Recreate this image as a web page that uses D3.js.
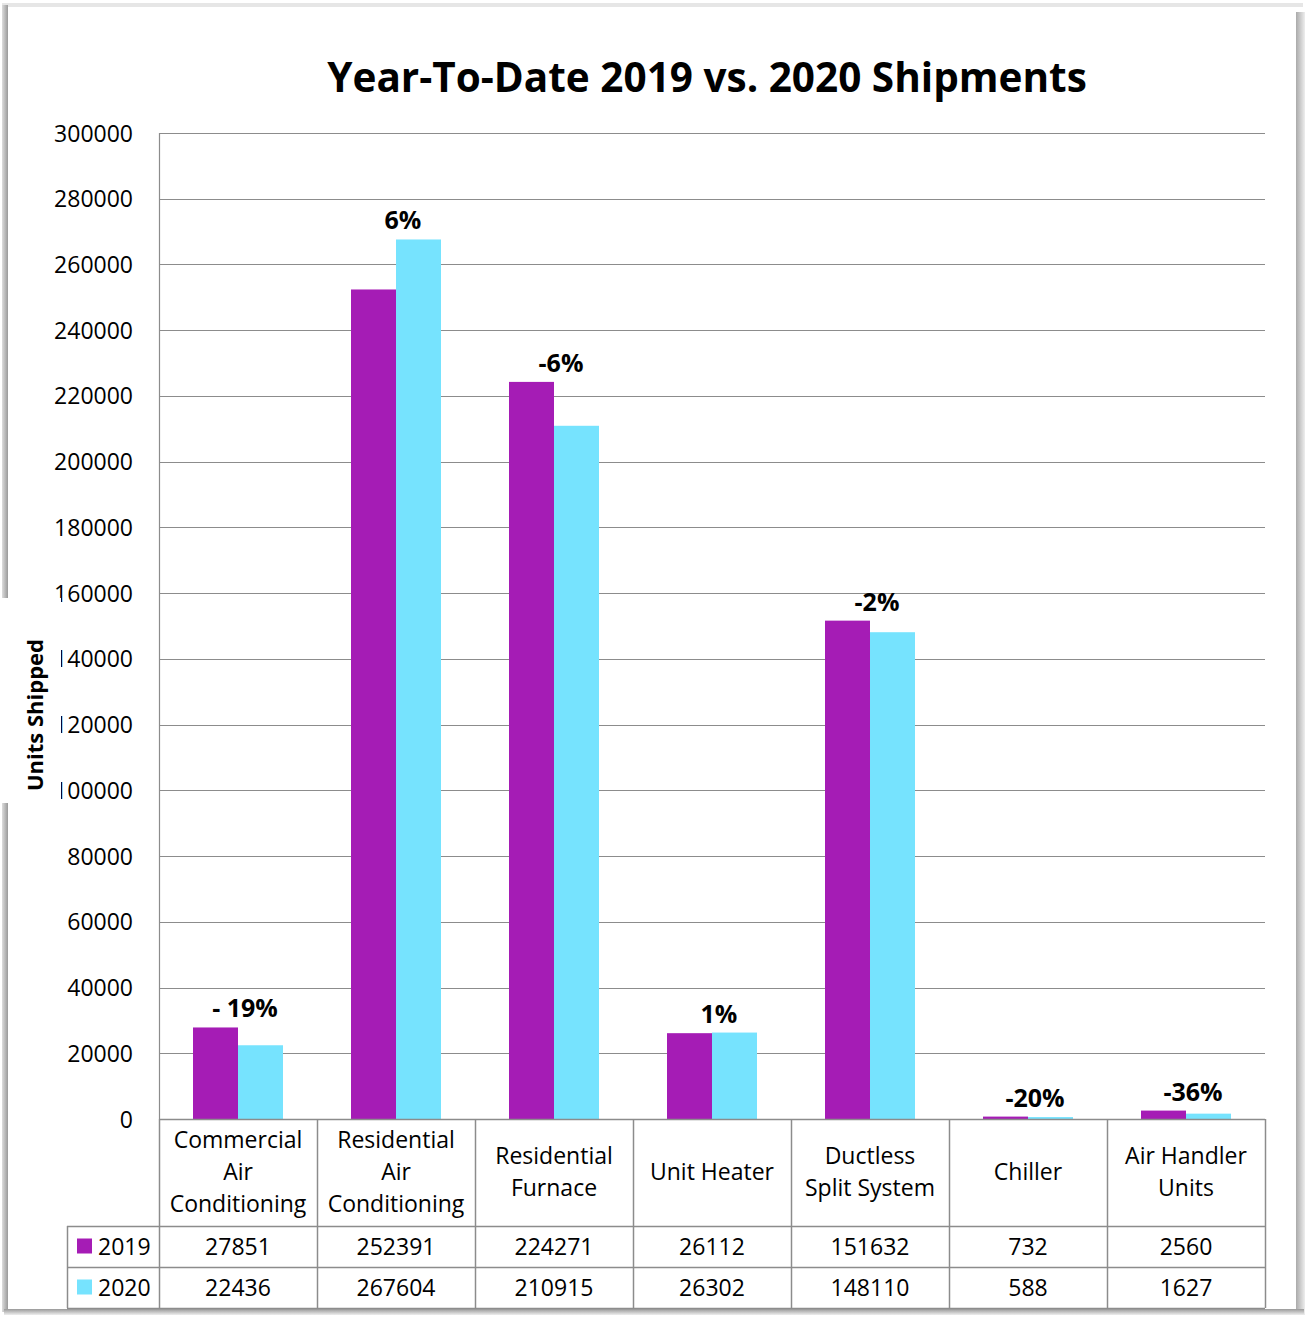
<!DOCTYPE html>
<html><head><meta charset="utf-8">
<script src="https://cdn.jsdelivr.net/npm/d3@7"></script>
<style>body{margin:0;background:#fff}svg{display:block}</style>
</head><body>
<script>
const categories = [["Commercial","Air","Conditioning"],["Residential","Air","Conditioning"],["Residential","Furnace"],["Unit Heater"],["Ductless","Split System"],["Chiller"],["Air Handler","Units"]];
const seriesNames = ["2019","2020"];
const values2019 = [27851,252391,224271,26112,151632,732,2560];
const values2020 = [22436,267604,210915,26302,148110,588,1627];
const changeLabels = ["- 19%","6%","-6%","1%","-2%","-20%","-36%"];
const yTicks = [0,20000,40000,60000,80000,100000,120000,140000,160000,180000,200000,220000,240000,260000,280000,300000];
const colors = ["#A51CB5","#76E3FE"];
const title = "Year-To-Date 2019 vs. 2020 Shipments";
const yTitle = "Units Shipped";

const W=1307,H=1317;
const font="'Open Sans', sans-serif";
const svg=d3.select("body").append("svg").attr("width",W).attr("height",H);

// frame
const defs=svg.append("defs");
const gR=defs.append("linearGradient").attr("id","gr").attr("x1","0").attr("x2","1");
gR.append("stop").attr("offset","0").attr("stop-color","#aaa");
gR.append("stop").attr("offset","1").attr("stop-color","#eee");
const gB=defs.append("linearGradient").attr("id","gb").attr("x1","0").attr("x2","0").attr("y1","0").attr("y2","1");
gB.append("stop").attr("offset","0").attr("stop-color","#999");
gB.append("stop").attr("offset","1").attr("stop-color","#eee");
const gL=defs.append("linearGradient").attr("id","gl").attr("x1","0").attr("x2","1");
gL.append("stop").attr("offset","0").attr("stop-color","#ddd");
gL.append("stop").attr("offset","1").attr("stop-color","#999");
svg.append("rect").attr("x",2).attr("y",3).attr("width",W-6).attr("height",4).attr("fill","#e6e6e6");
svg.append("rect").attr("x",2).attr("y",5).attr("width",6).attr("height",H-10).attr("fill","url(#gl)");
svg.append("rect").attr("x",1296).attr("y",12).attr("width",9).attr("height",H-14).attr("fill","url(#gr)");
svg.append("rect").attr("x",4).attr("y",1309).attr("width",1300).attr("height",6).attr("fill","url(#gb)");
svg.append("rect").attr("x",8).attr("y",7).attr("width",1288).attr("height",1302).attr("fill","#fff");

const x0=159,x1=1265,yTop=133,yBot=1119;
const y=d3.scaleLinear().domain([0,300000]).range([yBot,yTop]);
const x=d3.scaleBand().domain(d3.range(categories.length)).range([x0,x1]);
const xs=d3.scaleBand().domain([0,1]).range([0,90]);
const gridColor="#8c8c8c";

// grid
svg.append("g").selectAll("line").data(yTicks).join("line")
 .attr("x1",x0).attr("x2",x1).attr("y1",d=>Math.round(y(d))+0.5).attr("y2",d=>Math.round(y(d))+0.5)
 .attr("stroke",gridColor).attr("stroke-width",1.2);
svg.append("line").attr("x1",x0+0.5).attr("x2",x0+0.5).attr("y1",yTop).attr("y2",yBot).attr("stroke",gridColor).attr("stroke-width",1.2);

// y axis labels
const yAxis=d3.axisLeft(y).tickValues(yTicks).tickSize(0).tickPadding(0).tickFormat(d=>String(d));
const ya=svg.append("g").attr("transform",`translate(133,0)`).call(yAxis);
ya.select(".domain").remove();
ya.selectAll("text").attr("font-family",font).attr("font-size",23).attr("fill","#000").attr("dy","0.35em");

// white box behind y title (partly hides the first digit of some labels, as in the original)
svg.append("rect").attr("x",8).attr("y",598).attr("width",53).attr("height",205).attr("fill","#fff");
svg.append("rect").attr("x",2).attr("y",598).attr("width",6).attr("height",205).attr("fill","#fff");
svg.append("text").attr("transform",`translate(43,715) rotate(-90)`).attr("text-anchor","middle")
 .attr("font-family",font).attr("font-weight","bold").attr("font-size",22).text(yTitle);

// bars
const series=[values2019,values2020];
const bars=svg.append("g");
series.forEach((vals,si)=>{
  bars.selectAll(null).data(vals).join("rect")
   .attr("x",(d,i)=>x(i)+x.bandwidth()/2-45+xs(si))
   .attr("width",xs.bandwidth())
   .attr("y",d=>y(d)).attr("height",d=>yBot-y(d)).attr("fill",colors[si]);
});

// percent labels
svg.append("g").selectAll("text").data(changeLabels).join("text")
 .attr("x",(d,i)=>x(i)+x.bandwidth()/2+7)
 .attr("y",(d,i)=>y(Math.max(values2019[i],values2020[i]))-10)
 .attr("text-anchor","middle").attr("font-family",font).attr("font-weight","bold").attr("font-size",25).text(d=>d);

// title
svg.append("text").attr("x",707).attr("y",92).attr("text-anchor","middle")
 .attr("font-family",font).attr("font-weight","bold").attr("font-size",40.5).text(title);

// data table
const tb=svg.append("g");
const rowY=[1119,1226,1267,1308];
const tcol="#8c8c8c";
const fs=23;
tb.append("line").attr("x1",x0).attr("x2",x1).attr("y1",yBot+0.5).attr("y2",yBot+0.5).attr("stroke",tcol).attr("stroke-width",1.5);
[1226,1267,1308].forEach(yy=>tb.append("line").attr("x1",67).attr("x2",x1).attr("y1",yy+0.5).attr("y2",yy+0.5).attr("stroke",tcol).attr("stroke-width",1.5));
d3.range(categories.length+1).forEach(i=>{
  const xx=i<categories.length?x(i):x1;
  tb.append("line").attr("x1",xx+0.5).attr("x2",xx+0.5).attr("y1",yBot).attr("y2",1308).attr("stroke",tcol).attr("stroke-width",1.5);
});
tb.append("line").attr("x1",67.5).attr("x2",67.5).attr("y1",1226).attr("y2",1308).attr("stroke",tcol).attr("stroke-width",1.5);
categories.forEach((lines,i)=>{
  const cx=x(i)+x.bandwidth()/2;
  const n=lines.length, lh=32, cy=1172;
  lines.forEach((l,k)=>{
    tb.append("text").attr("x",cx).attr("y",cy+(k-(n-1)/2)*lh).attr("dy","0.35em").attr("text-anchor","middle")
     .attr("font-family",font).attr("font-size",fs).text(l);
  });
});
series.forEach((vals,si)=>{
  const cy=(rowY[si+1]+rowY[si+2])/2;
  tb.selectAll(null).data(vals).join("text")
   .attr("x",(d,i)=>x(i)+x.bandwidth()/2).attr("y",cy).attr("dy","0.35em").attr("text-anchor","middle")
   .attr("font-family",font).attr("font-size",fs).text(d=>d);
  tb.append("rect").attr("x",77).attr("y",cy-8).attr("width",15).attr("height",15).attr("fill",colors[si]);
  tb.append("text").attr("x",98).attr("y",cy).attr("dy","0.35em").attr("font-family",font).attr("font-size",fs).text(seriesNames[si]);
});
</script>
</body></html>
